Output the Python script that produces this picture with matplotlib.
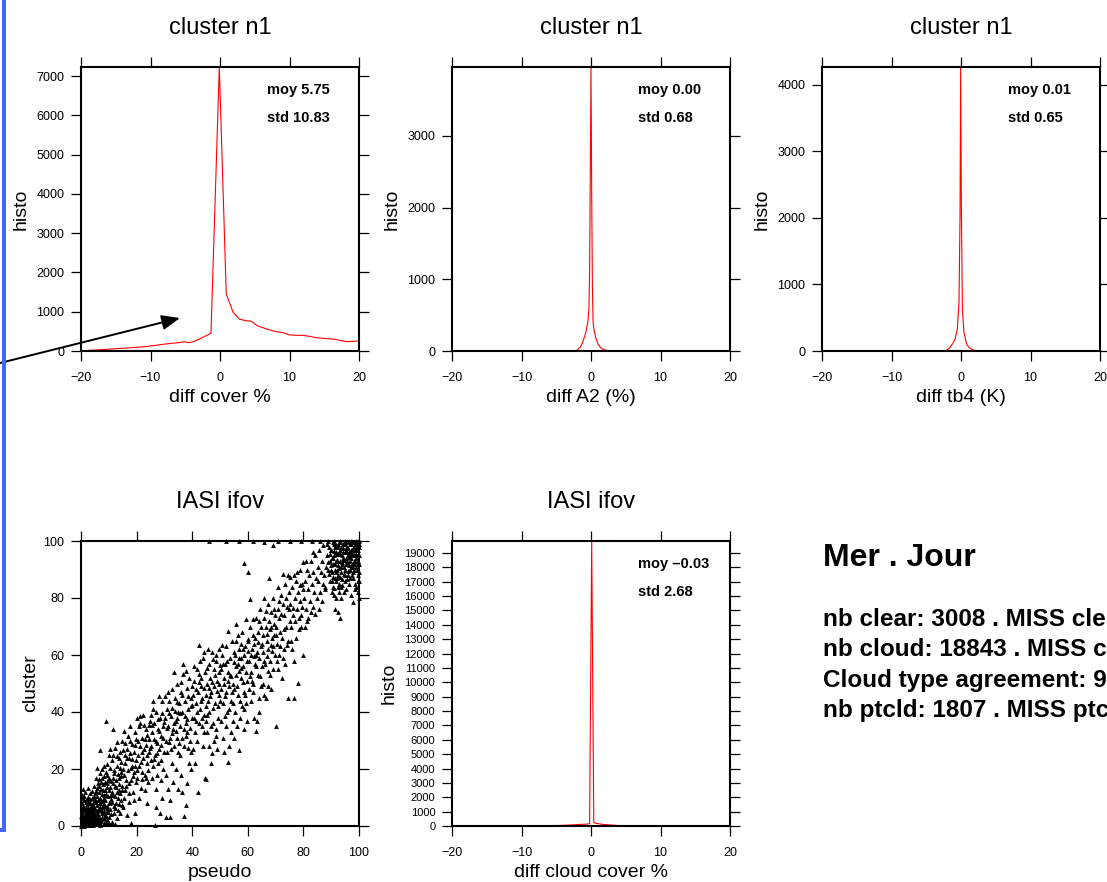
import numpy as np
import matplotlib
matplotlib.use("Agg")
import matplotlib.pyplot as plt
from matplotlib.patches import Rectangle

plt.rcParams['font.family'] = ['Liberation Sans', 'DejaVu Sans']

W, H = 1107, 882

# --- histogram curves (cluster n1) ---
cover_x = [-19, -18, -17, -16, -15, -14, -13, -12, -11, -10, -9, -8, -7, -6, -5, -4.5, -4, -3, -2, -1.3,
           -0.1, 0.9, 1.9, 2.8, 3.8, 4.5, 5.3, 6.7, 8.1, 9, 10, 11, 11.9, 13, 13.8, 15, 15.8, 16.5, 17.7,
           18.5, 19.5, 20]
cover_y = [15, 25, 35, 45, 60, 70, 80, 95, 105, 130, 150, 175, 195, 210, 235, 210, 230, 300, 390, 450,
           7230, 1450, 980, 810, 770, 760, 650, 560, 490, 470, 410, 400, 400, 370, 340, 320, 310, 300, 250,
           240, 250, 255]

a2_x = [-3, -2.5, -2, -1.5, -1.25, -1, -0.77, -0.6, -0.43, -0.3, -0.2, -0.1, 0, 0.1, 0.2, 0.3, 0.45,
        0.67, 1, 1.4, 1.8, 2.35, 3]
a2_y = [0, 3, 12, 60, 110, 180, 250, 330, 420, 600, 1100, 2500, 3960, 2200, 900, 400, 290, 190, 100,
        45, 20, 8, 0]

tb4_x = [-2.5, -2, -1.6, -1.2, -0.87, -0.53, -0.29, -0.14, -0.05, 0.05, 0.2, 0.43, 0.82, 1.2, 1.54, 2, 2.5]
tb4_y = [0, 15, 50, 110, 175, 325, 725, 2025, 4270, 2200, 625, 275, 100, 50, 25, 8, 0]

# --- IASI ifov ---
ccov_x = [-5, -4, -3, -2, -1, -0.2, 0.1, 0.4, 0.7, 1.5, 2, 3, 4, 4.5]
ccov_y = [30, 50, 70, 100, 120, 150, 19830, 230, 190, 120, 100, 70, 30, 20]

# pseudo / cluster pairs
scatter_txt = """
0.5,0.5 1,1 1.5,0.3 2,2 0.3,2.5 1.2,3 2.5,1 3,0.5 3.5,2 0.8,4 2,4.5 3,3.5 4,1.5 4.5,3 1.5,5.5 0.5,6
2.8,5.8 3.6,4.8 4.2,0.6 4.8,2.2 0.2,1.2 1.8,1.6 2.3,2.9 3.3,1.3 0.9,2 1.4,4.2 2.6,3.7 3.9,2.6 4.6,4.1
0.6,7 1.9,6.8 3.1,6.3 4.3,5.5 0.4,8.2 1.1,9 2.2,7.6 3.4,7.9 4.7,6.6 0.7,0.2 1.6,0.9 2.4,0.4 3.7,0.9
4.4,0.3 0.1,3.4 2.9,2.4 3.8,3.9 1.3,2.2 2.1,3.3 4.9,1.1 0.5,5.1 1,1.9 1.7,2.7 2.7,1.8 3.2,4.4 4.1,3.3
0.3,0.8 1.5,3.6 2.5,5 3.5,5.9 4.5,4.8 4,7.2 2,9.5 3,8.8 1.2,10.5 0.4,11 3.8,10 4.6,8.7
0.9,0.6 1.3,1.5 2.2,1.2 2.8,0.2 3.4,2.8 4.2,2.1 0.2,4.6 1,5.8 1.8,3.9 2.4,6.3 3.6,6.8 4.4,7.8 0.8,9.8
1.7,8.3 2.6,10.2 3.3,11.6 4.1,12.4 0.6,13 1.5,12 2.4,13.5 3.1,9.6 4.8,10.4 0.1,0.1 1.1,0.1 2,0.7
3.1,1.7 3.9,0.4 4.7,1.6 0.4,1.7 1.6,2.3 2.3,4.1 3.3,3.1 4.3,4.6 0.7,3.1 1.2,6.4 2,5.3 2.9,4.7 3.7,3.3
5.3,1.5 6.1,2.9 6.9,1.1 7.6,2.5 8.4,1.2 9.2,2.4 5.6,5.2 6.5,6.4 7.4,5.2 8.3,7.8 9.4,5.4 5.9,7.3
6.8,9.3 7.9,9.1 8.9,11 9.9,12.6 5.4,12.4 6.3,16.6 7.1,15.3 8,12.8 9.2,15.2 10.4,8.2 11.5,10.8
12.3,6.4 13.6,7.6 10.9,4.2 11.6,16.8 12.8,11.8 13.7,14.8 14.4,9 10.2,1.2 12.9,24.5 14,26
5.2,0.8 5.5,2.5 5.8,4 6,1.2 6.3,5.5 6.6,3 6.9,6.8 7.2,1.8 7.5,4.6 7.8,7.5 8.1,2.8 8.4,5.2 8.7,9 9,3.6
9.3,6.2 9.6,0.9 9.9,8 5.1,6 5.4,8.5 5.7,10.5 6.1,9.2 6.4,12 6.7,7.9 7,10 7.3,13 7.6,11.2 7.9,14.6
8.2,10.8 8.5,12.6 8.8,15.5 9.1,11.4 9.4,13.8 9.7,16.2 5.3,3.6 5.9,1.9 6.2,4.3 6.8,0.4 7.1,5.9 7.7,3.3
8,6.6 8.6,4.1 8.9,1.5 9.2,7.1 9.8,4.8 5,11.5 5.6,13.4 6,15 6.5,14.1 7.4,16.8 8.3,17.5 9,19 9.5,18
5.5,17 6.8,18.5 4.8,14 5.2,9.6 6.4,2.1 7.3,8.6 8.1,9.9 8.8,6.9 9.6,10.5 6.9,26.5 8.2,21 7.5,20
9.2,21.8 5.8,20.2 9,37
10.2,3 10.5,6 10.8,9.5 11.1,12 11.4,15 11.7,7 12,18.5 12.3,10.5 12.6,13.6 12.9,21 13.2,5.5 13.5,16.8
13.8,24 14.1,11.5 14.4,19 14.7,14 15,26.5 10.1,17 10.6,20.5 11,23 11.3,1.5 11.6,25 12.1,0.8 12.5,8
13,2.8 13.4,9.8 13.9,20.5 14.3,22.5 14.8,7.2 10.4,13.8 10.9,15.9 11.8,19.8 12.7,16.2 13.6,12.7
14.5,17.5 11.5,34 10.3,27 12.4,27.5 13.1,29.5 14.6,30 14.2,4.5 10.7,11 11.2,8.3 12.2,14.2 13.3,18.3
14.9,12.5 15,20 11.9,4.5 10,24.8
15.3,10 15.6,18 15.9,22 16.2,14 16.5,27 16.8,19.5 17.1,8.5 17.4,24 17.7,30 18,16 18.3,21 18.6,12
18.9,26 19.2,19 19.5,33 19.8,23 15.5,33.5 16,29 16.7,4 17.2,15.2 17.9,20.5 18.4,28.8 19,9 19.7,15.5
15.8,12.7 16.4,23.8 17.5,35 18.1,1 19.3,28.5 15.2,6.5 16.9,31.5 18.7,17.5 19.9,30.5 20,38 19.4,4.5
17.8,25.5 16.1,16.2 17.3,11.5 18.2,23.5 19.6,21 15.7,24.8
20.3,17 20.6,25 20.9,21 21.2,28 21.5,13.5 21.8,31 22.1,19 22.4,24 22.7,35.5 23,18 23.3,28.5 23.6,22
23.9,32 24.2,15.5 24.5,26 24.8,37 20.5,30 21,10 21.4,36 21.9,16.5 22.2,39 22.6,27 23.1,12.5 23.4,34
23.8,25 24.1,19.5 24.6,30.5 25,23 20.8,35 21.6,22.5 22.9,30.5 23.7,8 24.4,35.5 21.3,38.5 22,26
24.9,27.5 20.1,19.5 23.5,17
25.3,28 25.6,33 25.9,21 26.2,36 26.5,25 26.8,30 27.1,40 27.4,18 27.7,34 28,27 28.3,38 28.6,23
28.9,31.5 29.2,44 29.5,35 29.8,26 25.5,17 26,41 26.4,30.5 26.9,13 27.3,29 27.8,22 28.2,33.5 28.7,16
29,39.5 29.6,20 26.6,0.5 27,6.5 28.5,4.5 29.3,10 25.1,39 25.8,44 27.6,37.5 28.1,45.5 29.9,36.5
26.1,23.5 27.2,25.5 28.8,28.5 29.4,31 25.4,35.5
30.2,38 30.5,30 30.8,41 31.1,26 31.4,35 31.7,44 32,31 32.3,38.5 32.6,22 32.9,41.5 33.2,34 33.5,28
33.8,45 34.1,37 34.4,31 34.7,50 35,40 30.4,3 31.9,3.2 30.7,18 31.3,13 32.1,9 32.7,48 33.1,15.5
33.6,54 34,20 34.5,43.5 34.9,26 30.9,34.5 31.6,39.5 32.4,27 33.3,36 34.3,33.5 30.1,45.5 31.2,47
32.8,32.5 33.9,40.5 34.6,38 35,13 31.8,29.5
35.3,43 35.6,35 35.9,47 36.2,31 36.5,40 36.8,53.5 37.1,28 37.4,44 37.7,36 38,48.5 38.3,33 38.6,41
38.9,52 39.2,30 39.5,45 39.8,38 35.5,25 36,18 36.4,12 37,3.5 37.6,7.5 38.2,15 38.8,22 39.4,26
35.8,50.5 36.7,57 37.3,38.5 37.9,31.5 38.5,45.5 39.1,34.5 39.7,42 36.3,46 35.2,29 37.8,54.5 38.4,27.5
39.9,49 36.9,34 35.7,39.5 38.1,37.5 39.6,20
40.2,46 40.5,38 40.8,51 41.1,33 41.4,43 41.7,55 42,47 42.3,36 42.6,63.5 42.9,41 43.2,52 43.5,45
43.8,59 44.1,39 44.4,48.5 44.7,54 45,42 40.4,27 41,22 41.6,30 42.2,12 42.8,58 43.4,35 44,28 44.6,17
45,37 40.7,56 41.3,48 41.9,40 42.5,50.5 43.1,44 43.7,38 44.3,61 44.9,46 40.1,42.5 41.5,37 42.4,53.5
43.3,49 44.2,33 45,16.5
45.3,50 45.6,44 45.9,57 46.2,40 46.5,52 46.8,47 47.1,61 47.4,36 47.7,55 48,49 48.3,43 48.6,58
48.9,51 49.2,38 49.5,54 49.8,46 45.5,33 46,28 46.6,22 47.3,25.5 47.9,30 48.5,34 49.1,27 49.7,62
45.8,62 46.4,45.5 47,50.5 47.6,41.5 48.2,53 48.8,47.5 49.4,42 45.2,39 46.9,35 48.4,60 49.9,56.5
46.1,48.5 47.5,58.5 49.6,50 45.4,55.5 48.7,31.5
50.2,55 50.5,48 50.8,60 51.1,43 51.4,52 51.7,57 52,47 52.3,63 52.6,40 52.9,54 53.2,49 53.5,59
53.8,44 54.1,52.5 54.4,65 54.7,50 55,57.5 50.4,37 51,31 51.6,26 52.2,35 52.8,22.5 53.4,28 54,33
54.6,37 50.7,63.5 51.3,50 51.9,45.5 52.5,58 53.1,41 53.7,53 54.3,47 54.9,61 50.1,44 51.8,38.5
53,68.5 54.8,43 52.7,51 50.9,57 55,31
55.3,60 55.6,53 55.9,65 56.2,49 56.5,57 56.8,62 57.1,44 57.4,59 57.7,52 58,68 58.3,56 58.6,47
58.9,63 59.2,54 59.5,72.5 59.8,58 55.5,40 56,35 56.7,26.5 57.3,38 57.9,42 58.5,34 59.1,46 59.7,51
55.8,71 56.4,46 57,54.5 57.6,64 58.2,50.5 58.8,60 59.4,43 55.2,48 56.3,67 57.5,55.5 58.7,41
59.9,65.5 56.9,59 58.1,62 59.6,37 55.7,56 58.7,92.4 60,89
60.2,65 60.5,58 60.8,70 61.1,54 61.4,62 61.7,67 62,50 62.3,64 62.6,57 62.9,73 63.2,61 63.5,53
63.8,68 64.1,59 64.4,76 64.7,63 65,56 60.4,48 61,44 61.6,51 62.2,38 62.8,33.5 63.4,37 64,45 64.6,49
60.7,79.5 61.3,60 61.9,72.5 62.5,66 63.1,56 63.7,64.5 64.3,52.5 64.9,70 60.1,61.5 61.8,47 63,60
64.2,40 60.9,52.5 62.4,59.5 63.9,72
65.3,67 65.6,61 65.9,73 66.2,57 66.5,70 66.8,65 67.1,78 67.4,62 67.7,72 68,58 68.3,75 68.6,66
68.9,80 69.2,63 69.5,71 69.8,60 65.5,50 66,46 66.6,45 67.3,49 67.9,53 68.5,48 69.1,55 70,35
65.8,80 66.4,75.5 67,67.5 67.6,87 68.2,70 68.8,61.5 69.4,76 69,98.5 65.2,64 66.9,59.5 68.1,69
69.9,74 67.2,54.5 65.7,58 68.4,63.5 69.6,67
70.2,70 70.5,64 70.8,76 71.1,60 71.4,73 71.7,68 72,81 72.3,66 72.6,78 72.9,62 73.2,74 73.5,85
73.8,70 74.1,77 74.4,65 74.7,82 75,72 70.4,58 71,55 71.6,63 72.2,52 72.8,59 73.4,57 74,63.5 74.6,45
70.7,84 71.3,79 72.5,88.5 73.1,69 74.3,88 74.9,76 70.1,67 71.9,74.5 73.7,80 77.9,50.2
75.3,78 75.6,70 75.9,84 76.2,74 76.5,88 76.8,80 77.1,72 77.4,86 77.7,76 78,82 78.3,69 78.6,90
78.9,79 79.2,74 79.5,85 79.8,92.5 75.5,65 76,62 76.7,58 77.3,66 76.5,45 78.5,73 79.1,70 79.7,83
80,60 76.4,76.5 77.6,89 78.8,84.5 79.4,77 75.2,87.5
80.3,80 80.6,86 80.9,76 81.2,90 81.5,83 81.8,73 82.1,88 82.4,79 82.7,93 83,85 83.3,77 83.6,89
83.9,82 84.2,95 84.5,87 84.8,80 85.1,91 85.4,86 85.7,97 86,82 86.3,89 86.6,93 86.9,85 87.2,98.5
87.5,88 87.8,84 88,91 80.5,70 81.4,72 82.8,75 84,74.5 85.5,76 86.8,79 87.9,83 81,93 83.5,96
88.5,95 88.8,90 89.1,98 89.4,86 89.7,93 90,97 90.3,89 90.6,94 90.9,99 91.2,87 91.5,92 91.8,96 92.1,90
92.4,98 92.7,85 93,93 93.3,97 93.6,89 93.9,95 94.2,99 94.5,91 94.8,96 95.1,88 95.4,94 95.7,98 96,92
96.3,96 96.6,90 96.9,99 97.2,94 97.5,97 97.8,91 98.1,95 98.4,99 98.7,93 99,97 99.3,90 99.6,95 99.9,99
88.6,99 89,92.5 89.5,95.5 90.1,91.5 90.5,99.5 90.8,84 91.1,95 91.6,98.5 92,93.5 92.5,88 92.9,96
93.2,99.5 93.5,91 93.8,86.5 94.1,94 94.4,97.5 94.7,88.5 95,99 95.3,92 95.6,96 95.9,89.5 96.2,99.5
96.5,94.5 96.8,87 97.1,97 97.4,92 97.7,99.5 98,89 98.3,93 98.6,97 98.9,91 99.2,99.5 99.5,93 99.8,97
89.2,88.5 89.8,97 90.2,86 90.7,92 91.3,90 91.9,93 92.2,95.5 92.6,99 93.1,87.5 93.7,98 94,92 94.6,93.5
95.2,96.5 95.8,93 96.1,97.5 96.7,95 97,91 97.3,99 97.6,95.5 97.9,97.5 98.2,92 98.5,95 98.8,99 99.1,94
99.4,98 99.7,92 90.4,82 91,83.5 91.7,80 92.3,84 92.8,82 93.4,80 94,84.5 94.9,86 95.5,83 96.4,85
97.2,81 98,87 99,84 99.6,88 100,80 100,86 91.4,76 92.6,75 93,73 97.7,78.5 99.5,82 98.5,83 96,88
91.8,86 46,100 52,100 57,100 62,100 66,99.7 71,100 75,100 79,100 83,100 86,100 89,100 91,100
93,100 95,100 97,100 99,100 100,100 100,98 100,95 100,92 100,89
90.9,96.5 91.4,98 92.3,91.5 93,95.5 93.9,92.5 94.3,96 95.4,97.5 96,95 96.9,93 97.4,96 98.3,98
99,95.5 99.6,98.5 90.2,94 91.7,89 92.8,90.5 94.8,90 96.4,91.5 98.1,90 99.3,92 89.9,90 90.6,87.5
92.1,87 93.6,84 95.7,86.5 97.5,88 99.8,86 91.1,81 94.5,82 98.4,85
"""
pairs = np.array([[float(v) for v in p.split(',')] for p in scatter_txt.split()])
pseudo = pairs[:, 0]
cluster = pairs[:, 1]

stats_cover = ("moy 5.75", "std 10.83")
stats_a2 = ("moy 0.00", "std 0.68")
stats_tb4 = ("moy 0.01", "std 0.65")
stats_ccov = ("moy \u20130.03", "std 2.68")

# summary block, as far as it shows before the page edge
summary_title = "Mer . Jour"
summary_lines = ["nb clear: 3008 . MISS cle",
                 "nb cloud: 18843 . MISS c",
                 "Cloud type agreement: 9",
                 "nb ptcld: 1807 . MISS ptc"]


def pixel_axes(fig, left, top, right, bottom):
    return fig.add_axes([left / W, 1 - bottom / H, (right - left) / W, (bottom - top) / H])


def style_axes(ax, ylabsize=9):
    for s in ax.spines.values():
        s.set_linewidth(1.5)
    ax.tick_params(direction='out', length=7, width=0.9, top=True, right=True,
                   labelsize=9, pad=6)
    ax.tick_params(axis='y', labelsize=ylabsize, pad=5)
    ax.tick_params(axis='x', pad=8)


def histo_panel(ax, x, y, ymax, yticks, xlabel, title, stats, ylabsize=9):
    ax.plot(x, y, color='red', lw=0.8)
    ax.set_xlim(-20, 20)
    ax.set_ylim(0, ymax)
    ax.set_xticks([-20, -10, 0, 10, 20])
    ax.set_yticks(yticks)
    ax.set_xlabel(xlabel, fontsize=14, labelpad=4)
    ax.set_ylabel("histo", fontsize=14, labelpad=5)
    ax.set_title(title, fontsize=17, pad=24)
    ax.text(0.669, 0.918, stats[0], transform=ax.transAxes, fontsize=10.5,
            weight='bold', va='center')
    ax.text(0.669, 0.82, stats[1], transform=ax.transAxes, fontsize=10.5,
            weight='bold', va='center')
    style_axes(ax, ylabsize)


fig = plt.figure(figsize=(W / 100, H / 100), dpi=100)

ax1 = pixel_axes(fig, 81, 67, 359, 351)
histo_panel(ax1, cover_x, cover_y, 7230, range(0, 7001, 1000), "diff cover %", "cluster n1", stats_cover)

ax2 = pixel_axes(fig, 452, 67, 730, 351)
histo_panel(ax2, a2_x, a2_y, 3960, range(0, 3001, 1000), "diff A2 (%)", "cluster n1", stats_a2)

ax3 = pixel_axes(fig, 822, 67, 1100, 351)
histo_panel(ax3, tb4_x, tb4_y, 4270, range(0, 4001, 1000), "diff tb4 (K)", "cluster n1", stats_tb4)

ax4 = pixel_axes(fig, 81, 541, 359, 826)
ax4.scatter(pseudo, cluster, marker='^', s=12, color='black', linewidths=0, clip_on=False)
ax4.set_xlim(0, 100)
ax4.set_ylim(0, 100)
ax4.set_xticks(range(0, 101, 20))
ax4.set_yticks(range(0, 101, 20))
ax4.set_xlabel("pseudo", fontsize=14, labelpad=4)
ax4.set_ylabel("cluster", fontsize=14, labelpad=3)
ax4.set_title("IASI ifov", fontsize=17, pad=24)
style_axes(ax4)

ax5 = pixel_axes(fig, 452, 541, 730, 826)
histo_panel(ax5, ccov_x, ccov_y, 19830, range(0, 19001, 1000), "diff cloud cover %", "IASI ifov",
            stats_ccov, ylabsize=8)

fig.text(823 / W, 1 - 558 / H, summary_title, fontsize=23, weight='bold', va='center')
for i, line in enumerate(summary_lines):
    fig.text(823 / W, 1 - (620 + 30 * i) / H, line, fontsize=17.5, weight='bold', va='center')

# annotation arrow coming from the left
ax1.annotate('', xy=(180, H - 318), xycoords='figure pixels',
             xytext=(-10, H - 365.5), textcoords='figure pixels',
             arrowprops=dict(arrowstyle='-|>,head_length=1.1,head_width=0.45', color='black',
                             lw=1.4, mutation_scale=10, shrinkA=0, shrinkB=0),
             annotation_clip=False)

# blue frame edge on the left
fig.add_artist(Rectangle((-20 / W, (H - 830) / H), 24 / W, 1.2, transform=fig.transFigure,
                         fill=False, edgecolor='#3c64ff', linewidth=2.8, clip_on=False))

fig.savefig("out.png", dpi=100)
